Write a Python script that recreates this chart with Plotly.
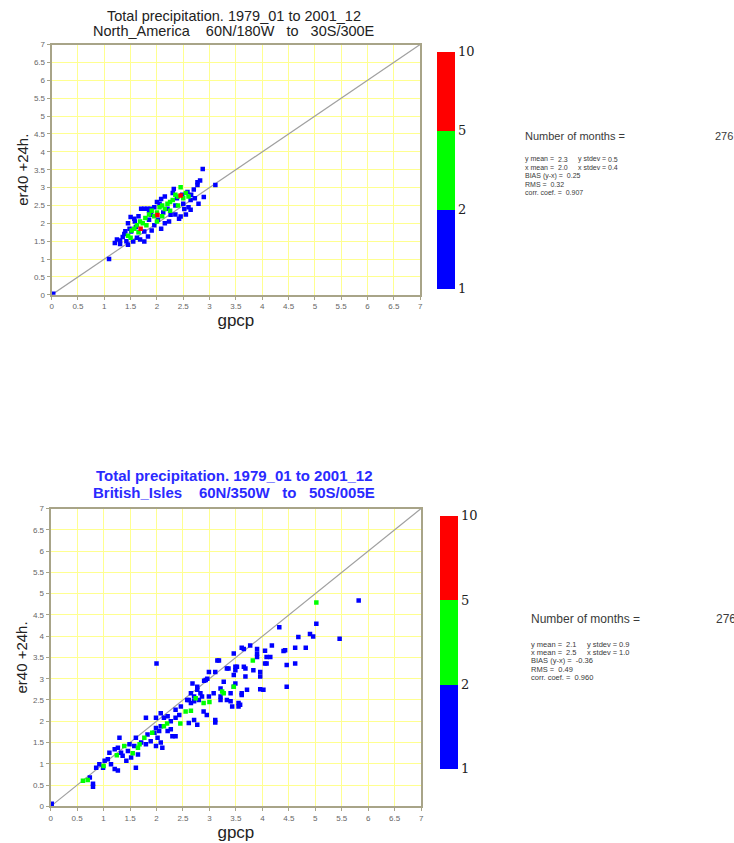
import plotly.graph_objects as go

# ---------------- data ----------------
tick_vals = [0, 0.5, 1, 1.5, 2, 2.5, 3, 3.5, 4, 4.5, 5, 5.5, 6, 6.5, 7]
tick_text = ["0", "0.5", "1", "1.5", "2", "2.5", "3", "3.5", "4", "4.5", "5", "5.5", "6", "6.5", "7"]
count_bounds = [1, 2, 5, 10]
count_labels = ["1", "2", "5", "10"]

# North America: gpcp (x), er40 +24h (y), number of months in each cell
na_gpcp = [0.03, 1.09, 1.20, 1.24, 1.30, 1.35, 1.40, 1.45, 1.42, 1.51, 1.55, 1.57, 1.62, 1.70, 1.76,
           1.82, 1.88, 1.76, 1.83, 1.76, 1.85, 1.89, 1.95, 2.00, 2.08, 2.08, 2.12, 2.20, 2.23, 2.26,
           2.32, 2.38, 2.42, 2.45, 2.50, 2.58, 2.64, 2.64, 2.70, 2.77, 2.79, 2.87, 2.89, 3.11, 2.77,
           2.82, 1.48, 1.60, 1.65, 2.15, 2.35, 2.48, 1.38, 1.95, 2.02, 2.55, 2.60, 1.30, 1.45, 1.68,
           1.90, 2.15, 2.35, 2.52, 2.65, 2.72, 2.30, 2.05, 1.85, 1.58, 1.50,
           1.45, 1.52, 1.57, 1.62, 1.68, 1.73, 1.78, 1.85, 1.90, 1.95, 2.00, 2.05, 2.10, 2.15, 2.20,
           2.25, 2.30, 2.35, 2.40, 2.45, 2.50, 2.55, 1.80, 2.00, 2.10, 2.25, 2.40, 1.65, 1.50, 2.60,
           1.69, 2.01, 2.45]
na_er40 = [0.03, 1.00, 1.45, 1.55, 1.42, 1.62, 1.78, 2.00, 1.50, 1.77, 1.49, 2.13, 1.60, 2.41, 2.41,
           2.41, 2.41, 1.49, 1.63, 1.77, 2.10, 2.24, 1.95, 2.60, 2.68, 1.85, 2.30, 2.41, 2.05, 2.24,
           2.96, 2.70, 2.13, 2.19, 2.55, 2.88, 2.65, 2.38, 2.95, 3.07, 2.55, 3.52, 2.74, 3.07, 3.15,
           3.20, 1.85, 1.90, 2.20, 2.75, 2.50, 2.80, 1.70, 2.45, 2.10, 2.25, 2.45, 1.52, 1.40, 1.55,
           1.80, 2.00, 2.25, 2.40, 2.80, 2.70, 2.85, 2.55, 2.35, 2.05, 2.18,
           1.65, 1.80, 1.85, 1.95, 2.05, 2.00, 2.15, 2.25, 2.35, 2.20, 2.30, 2.45, 2.50, 2.40, 2.55,
           2.60, 2.65, 2.80, 2.75, 3.01, 2.70, 2.85, 1.95, 2.05, 2.20, 2.35, 2.50, 1.75, 1.60, 2.75,
           1.85, 2.23, 2.78]
na_months = [1] * 71 + [3] * 30 + [6] * 3

# British Isles
bi_gpcp = [0.02, 0.74, 0.80, 0.80, 0.86, 0.92, 0.99, 1.02, 1.08, 1.14, 1.21, 1.27, 1.11, 1.21, 1.27,
           1.30, 1.33, 1.36, 1.46, 1.43, 1.52, 1.61, 1.49, 1.58, 1.65, 1.61, 1.71, 1.80, 1.89, 1.99,
           2.11, 1.83, 1.96, 2.02, 1.99, 2.08, 2.05, 2.21, 2.27, 2.36, 1.80, 1.99, 2.08, 2.14, 2.21,
           2.27, 2.36, 2.43, 2.36, 2.46, 2.61, 2.71, 2.77, 2.58, 2.65, 2.71, 2.80, 2.89, 2.95, 2.30,
           2.08, 2.00, 2.96, 2.90, 3.11, 3.11, 3.43, 3.55, 3.33, 3.61, 2.83, 2.99, 3.21, 2.71, 2.65,
           2.77, 2.68, 2.99, 3.15, 3.36, 3.49, 3.65, 3.77, 3.90, 4.05, 4.15, 4.08, 4.18, 3.83, 3.65,
           3.49, 3.96, 4.02, 3.46, 3.58, 5.82, 5.02, 4.32, 4.68, 4.90, 4.96, 5.46, 4.62, 4.82, 4.40,
           3.61, 3.90, 3.46, 3.90, 4.08, 4.05, 3.18, 4.46, 4.62, 3.33, 3.52, 3.68, 3.11, 3.96, 3.46,
           3.68, 2.93, 3.27, 3.49, 4.46, 3.96, 3.71, 3.21, 2.77, 3.08, 3.40, 3.61, 2.86, 2.61, 3.21,
           3.40, 3.55, 4.43,
           0.61, 1.39, 1.65, 1.68, 1.77, 1.92, 2.14, 2.55, 2.89, 5.02, 3.82, 3.46, 3.27, 2.74, 3.24,
           2.45, 2.20, 1.55, 1.25, 1.00, 0.70, 2.65, 3.00]
bi_er40 = [0.06, 0.68, 0.53, 0.46, 0.91, 0.99, 0.91, 1.07, 1.11, 0.99, 0.88, 0.84, 1.26, 1.34, 1.38,
           1.61, 1.26, 1.19, 1.30, 1.07, 1.15, 0.91, 1.46, 1.42, 1.22, 1.61, 1.50, 1.46, 1.53, 1.42,
           1.38, 1.69, 1.73, 1.61, 1.84, 1.88, 1.77, 1.77, 1.81, 1.65, 2.08, 2.08, 2.19, 2.08, 2.12,
           2.00, 2.08, 2.15, 2.27, 2.35, 1.96, 2.03, 1.92, 2.50, 2.66, 2.47, 2.50, 2.23, 2.15, 1.65,
           1.50, 3.36, 3.00, 2.95, 2.03, 1.97, 2.35, 2.35, 2.50, 2.62, 2.66, 2.58, 2.58, 2.58, 2.43,
           2.74, 2.89, 3.16, 3.43, 3.24, 3.28, 3.70, 3.78, 3.70, 3.66, 3.51, 3.36, 3.78, 3.20, 3.28,
           3.20, 3.05, 2.74, 2.81, 2.39, 4.84, 4.29, 4.21, 3.98, 4.05, 3.99, 3.94, 3.73, 3.73, 3.65,
           3.73, 3.59, 3.59, 3.51, 3.51, 3.36, 3.43, 3.32, 3.36, 3.24, 3.28, 3.24, 3.16, 3.16, 3.09,
           3.05, 2.97, 2.93, 2.89, 2.81, 2.75, 2.74, 2.77, 2.81, 2.66, 2.66, 2.66, 2.58, 2.50, 2.50,
           2.47, 2.43, 3.67,
           0.60, 1.42, 1.38, 1.46, 1.61, 1.73, 1.88, 2.23, 2.43, 4.79, 3.43, 2.81, 2.66, 2.54, 2.70,
           1.95, 1.95, 1.25, 1.20, 0.95, 0.62, 2.25, 2.45]
bi_months = [1] * 138 + [3] * 23

na_title = ["Total precipitation. 1979_01 to 2001_12", "North_America    60N/180W   to   30S/300E"]
bi_title = ["Total precipitation. 1979_01 to 2001_12", "British_Isles    60N/350W   to   50S/005E"]
na_stats = {"n": "276", "ymean": "2.3", "ystd": "0.5", "xmean": "2.0", "xstd": "0.4",
            "bias": "0.25", "rms": "0.32", "corr": "0.907"}
bi_stats = {"n": "276", "ymean": "2.1", "ystd": "0.9", "xmean": "2.5", "xstd": "1.0",
            "bias": "-0.36", "rms": "0.49", "corr": "0.960"}

# ---------------- helpers ----------------
W, H = 734, 843


def px(x):
    return x / W


def py(y):
    return 1 - y / H


def band(c):
    # position of count on the equal-segment colour bar (1-2, 2-5, 5-10)
    for i in range(len(count_bounds) - 1):
        lo, hi = count_bounds[i], count_bounds[i + 1]
        if c < hi or i == len(count_bounds) - 2:
            return i + (c - lo) / (hi - lo)
    return 0


colorscale = [[0, "#0000ff"], [1 / 3, "#0000ff"], [1 / 3, "#00ff00"], [2 / 3, "#00ff00"],
              [2 / 3, "#ff0000"], [1, "#ff0000"]]

fig = go.Figure()

GRID = "#ffff90"
FRAME = "#a8a488"
TICKFONT = dict(family="Liberation Sans", size=8, color="#666666")


def add_panel(n, xs, ys, counts, xdom, ydom, cb_x, cb_y, cb_len, xstand):
    xa = "x" if n == 1 else "x%d" % n
    ya = "y" if n == 1 else "y%d" % n
    ca = "coloraxis" if n == 1 else "coloraxis%d" % n
    fig.add_trace(go.Scatter(x=[tick_vals[0], tick_vals[-1]], y=[tick_vals[0], tick_vals[-1]],
                             mode="lines", line=dict(color="#a0a0a0", width=1.2),
                             xaxis=xa, yaxis=ya, showlegend=False, hoverinfo="skip"))
    order = sorted(range(len(xs)), key=lambda i: counts[i])
    fig.add_trace(go.Scatter(x=[xs[i] for i in order], y=[ys[i] for i in order], mode="markers",
                             marker=dict(symbol="square", size=4.5,
                                         color=[band(counts[i]) for i in order],
                                         coloraxis=ca, line=dict(width=0)),
                             xaxis=xa, yaxis=ya, showlegend=False))
    axis_common = dict(range=[0, 7], tickmode="array", tickvals=tick_vals, ticktext=tick_text,
                       showgrid=True, gridcolor=GRID, gridwidth=1, zeroline=False,
                       showline=True, linecolor=FRAME, linewidth=2, mirror=True,
                       ticks="outside", ticklen=3, tickcolor=FRAME, tickfont=TICKFONT)
    key = "" if n == 1 else str(n)
    fig.layout["xaxis" + key] = dict(domain=xdom, anchor=ya, **axis_common,
                                     title=dict(text="gpcp", font=dict(family="Liberation Sans", size=17, color="#222"), standoff=xstand))
    fig.layout["yaxis" + key] = dict(domain=ydom, anchor=xa, **axis_common,
                                     title=dict(text="er40 +24h.", font=dict(family="Liberation Sans", size=15, color="#222"), standoff=2))
    fig.layout[ca] = dict(cmin=0, cmax=3, colorscale=colorscale,
                          colorbar=dict(x=cb_x, xanchor="left", xpad=0, y=cb_y, yanchor="middle", ypad=0,
                                        len=cb_len, lenmode="fraction", thickness=18, thicknessmode="pixels",
                                        outlinewidth=0, ticks="", tickmode="array",
                                        tickvals=[0, 1, 2, 3], ticktext=count_labels,
                                        tickfont=dict(family="DejaVu Serif", size=13, color="#222")))


add_panel(1, na_gpcp, na_er40, na_months, [px(50), px(421)], [py(294), py(41)],
          px(438), py(168), 240 / H, 0)
add_panel(2, bi_gpcp, bi_er40, bi_months, [px(49), px(422)], [py(811), py(510)],
          px(441), py(645), 256 / H, 3)

ann = []


def txt(x, y, s, size, color="#3a3a3a", anchor="left", family="Liberation Sans"):
    ann.append(dict(x=px(x), y=py(y), xref="paper", yref="paper", text=s, showarrow=False,
                    xanchor=anchor, yanchor="middle", font=dict(family=family, size=size, color=color)))


# titles
txt(234, 12, na_title[0], 14.5, color="#222222", anchor="center")
txt(234, 27, na_title[1], 14.5, color="#222222", anchor="center")
txt(234, 477, "<b>" + bi_title[0] + "</b>", 15, color="#2a2aff", anchor="center")
txt(234, 494, "<b>" + bi_title[1] + "</b>", 15, color="#2a2aff", anchor="center")


def stats(x0, y0, ys, st, big, small, cols):
    txt(x0, y0, "Number of months =", big)
    txt(cols[3], y0, st["n"], big)
    txt(x0, ys[0], "y mean =", small)
    txt(cols[0], ys[0], st["ymean"], small)
    txt(cols[1], ys[0], "y stdev =", small)
    txt(cols[2], ys[0], st["ystd"], small)
    txt(x0, ys[1], "x mean =", small)
    txt(cols[0], ys[1], st["xmean"], small)
    txt(cols[1], ys[1], "x stdev =", small)
    txt(cols[2], ys[1], st["xstd"], small)
    txt(x0, ys[2], "BIAS (y-x) =  " + st["bias"], small)
    txt(x0, ys[3], "RMS =  " + st["rms"], small)
    txt(x0, ys[4], "corr. coef. =  " + st["corr"], small)


stats(525, 133, [157, 165.5, 174, 182.5, 191], na_stats, 11, 7, [558, 578, 608, 716])
stats(531, 622, [647, 655.5, 664, 672.5, 681], bi_stats, 12, 7.5, [566, 587, 619, 717])

fig.update_layout(width=W, height=H, margin=dict(l=0, r=0, t=0, b=0),
                  paper_bgcolor="white", plot_bgcolor="white", annotations=ann)

fig.write_html("out.html")
